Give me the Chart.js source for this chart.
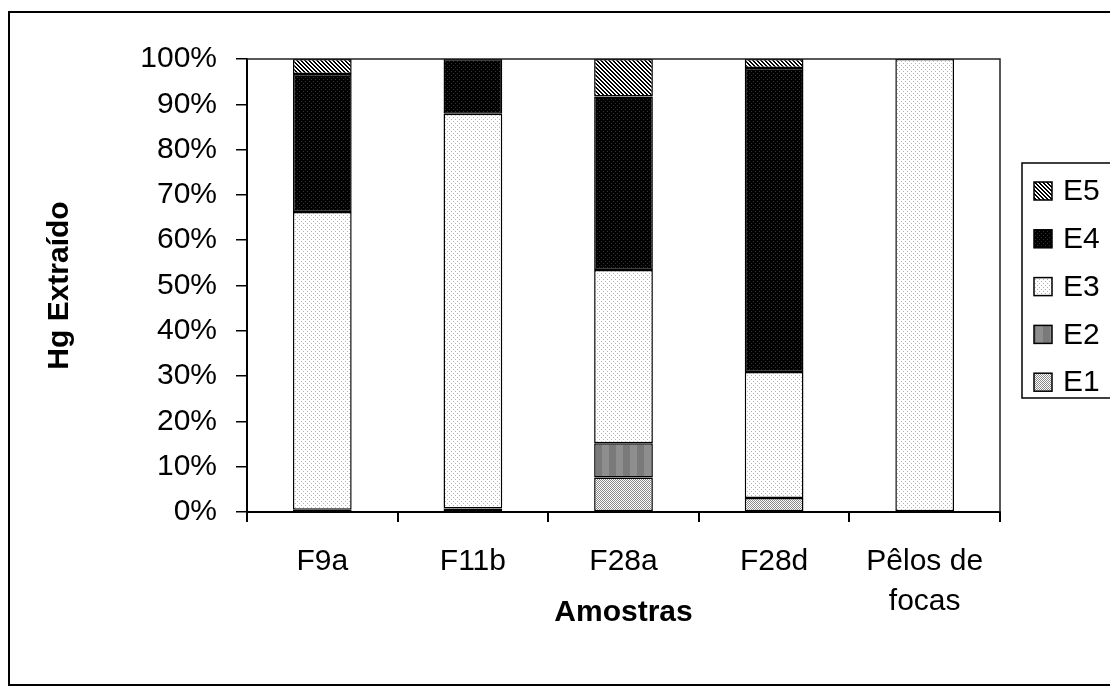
<!DOCTYPE html>
<html>
<head>
<meta charset="utf-8">
<title>Hg Extraído</title>
<script src="https://cdn.jsdelivr.net/npm/chart.js@4.4.0/dist/chart.umd.min.js"></script>
<style>
  html, body { margin: 0; padding: 0; background: #fff; }
  #wrap { width: 1110px; height: 695px; }
</style>
</head>
<body>
<div id="wrap"><canvas id="myChart" width="1110" height="695"></canvas></div>
<script>
// samples on the x axis
const samples = ['F9a', 'F11b', 'F28a', 'F28d', ['Pêlos de', 'focas']]

// percentage of Hg extracted in each step (each bar adds up to 100)
const e1 = [0.5, 0.8, 7.6, 3.1, 0]
const e2 = [0, 0, 7.6, 0, 0]
const e3 = [65.7, 87.1, 38.2, 27.8, 100]
const e4 = [30.5, 12.1, 38.3, 67.1, 0]
const e5 = [3.3, 0, 8.3, 2.0, 0]

const yTicks = [0, 10, 20, 30, 40, 50, 60, 70, 80, 90, 100]

const FONT = 'Liberation Sans, Arial, sans-serif'

// small tiles used as fill patterns, like the old excel hatches
function makePattern(w, h, paint) {
  const c = document.createElement('canvas')
  c.width = w
  c.height = h
  const g = c.getContext('2d')
  paint(g)
  return g.createPattern(c, 'repeat')
}

const patE1 = makePattern(2, 2, g => {
  g.fillStyle = '#ffffff'; g.fillRect(0, 0, 2, 2)
  g.fillStyle = '#8a8a8a'; g.fillRect(0, 0, 1, 1); g.fillRect(1, 1, 1, 1)
})
const patE2 = makePattern(14, 1, g => {
  g.fillStyle = '#7a7a7a'; g.fillRect(0, 0, 14, 1)
  g.fillStyle = '#8e8e8e'; g.fillRect(0, 0, 7, 1)
})
const patE3 = makePattern(4, 4, g => {
  g.fillStyle = '#ffffff'; g.fillRect(0, 0, 4, 4)
  g.fillStyle = '#b4b4b4'; g.fillRect(1, 1, 1, 1); g.fillRect(3, 3, 1, 1)
})
const patE4 = makePattern(4, 4, g => {
  g.fillStyle = '#000000'; g.fillRect(0, 0, 4, 4)
  g.fillStyle = '#333333'; g.fillRect(1, 1, 1, 1); g.fillRect(3, 3, 1, 1)
})
const patE5 = makePattern(4, 4, g => {
  g.fillStyle = '#ffffff'; g.fillRect(0, 0, 4, 4)
  g.fillStyle = '#000000'
  for (let x = 0; x < 4; x++) {
    for (let y = 0; y < 4; y++) {
      const d = ((x - y) % 4 + 4) % 4
      if (d < 2) g.fillRect(x, y, 1, 1)
    }
  }
})

function series(label, data, fill) {
  return {
    label: label,
    data: data,
    backgroundColor: fill,
    borderColor: '#000',
    borderWidth: 1.5,
    borderSkipped: false,
    categoryPercentage: 1,
    barPercentage: 0.39
  }
}

// frame around the whole figure and around the plot area
const framePlugin = {
  id: 'frame',
  beforeDraw(chart) {
    const ctx = chart.ctx
    ctx.save()
    ctx.fillStyle = '#fff'
    ctx.fillRect(0, 0, chart.width, chart.height)
    ctx.strokeStyle = '#000'
    ctx.lineWidth = 2
    ctx.strokeRect(9, 12, 1200, 673)
    ctx.restore()
  },
  afterDatasetsDraw(chart) {
    const a = chart.chartArea
    const ctx = chart.ctx
    ctx.save()
    ctx.strokeStyle = '#222'
    ctx.lineWidth = 1.5
    ctx.beginPath()
    ctx.moveTo(a.left, a.top)
    ctx.lineTo(a.right, a.top)
    ctx.lineTo(a.right, a.bottom)
    ctx.stroke()
    ctx.restore()
  }
}

// legend box on the right, top entry is the last series
const boxLegend = {
  id: 'boxLegend',
  afterDraw(chart) {
    const ctx = chart.ctx
    const sets = chart.data.datasets.slice().reverse()
    ctx.save()
    ctx.strokeStyle = '#000'
    ctx.lineWidth = 1.5
    ctx.strokeRect(1022, 163, 120, 235)
    ctx.font = '30px ' + FONT
    ctx.textBaseline = 'middle'
    ctx.textAlign = 'left'
    sets.forEach((ds, i) => {
      const cy = 191 + i * 47.8
      ctx.fillStyle = ds.backgroundColor
      ctx.fillRect(1034, cy - 9, 18, 18)
      ctx.lineWidth = 1.5
      ctx.strokeRect(1034, cy - 9, 18, 18)
      ctx.fillStyle = '#000'
      ctx.fillText(ds.label, 1063, cy + 1)
    })
    ctx.restore()
  }
}

const ctx = document.getElementById('myChart').getContext('2d')
const chart = new Chart(ctx, {
  type: 'bar',
  data: {
    labels: samples,
    datasets: [
      series('E1', e1, patE1),
      series('E2', e2, patE2),
      series('E3', e3, patE3),
      series('E4', e4, patE4),
      series('E5', e5, patE5)
    ]
  },
  options: {
    responsive: false,
    animation: false,
    devicePixelRatio: 1,
    layout: { padding: { top: 59, right: 110, left: 0, bottom: 0 } },
    plugins: {
      legend: { display: false },
      tooltip: { enabled: false }
    },
    scales: {
      x: {
        stacked: true,
        grid: { offset: true, drawOnChartArea: false, drawTicks: true, tickLength: 10, color: '#000', lineWidth: 2 },
        border: { color: '#000', width: 2 },
        ticks: { color: '#000', font: { family: FONT, size: 30, lineHeight: 1.35 }, padding: 19, maxRotation: 0, autoSkip: false },
        title: { display: true, text: 'Amostras', color: '#000', font: { family: FONT, size: 30, weight: 'bold' }, padding: { top: 0, bottom: 64 } },
        afterFit(scale) { scale.height = 183 }
      },
      y: {
        stacked: true,
        min: 0,
        max: 100,
        afterBuildTicks(scale) { scale.ticks = yTicks.map(v => ({ value: v })) },
        grid: { drawOnChartArea: false, drawTicks: true, tickLength: 11, color: '#000', lineWidth: 1.5 },
        border: { color: '#000', width: 2 },
        ticks: { color: '#000', font: { family: FONT, size: 30 }, padding: 19, callback: v => v + '%' },
        title: { display: true, text: 'Hg Extraído', color: '#000', font: { family: FONT, size: 30, weight: 'bold' }, padding: { top: 42, bottom: 0 } },
        afterFit(scale) { scale.width = 247 }
      }
    }
  },
  plugins: [framePlugin, boxLegend]
})
</script>
</body>
</html>
